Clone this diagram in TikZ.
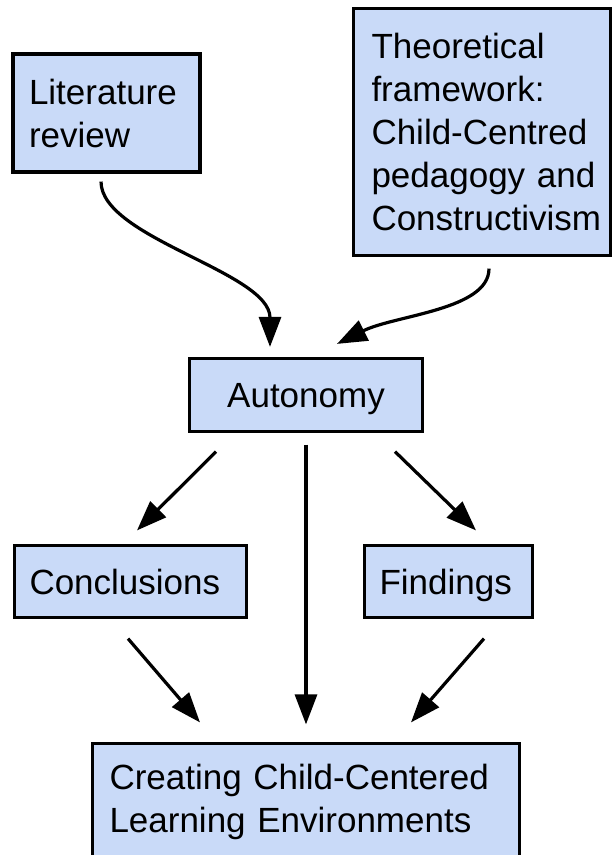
\documentclass[tikz,border=0pt]{standalone}
\usepackage{fontspec}
\setmainfont{Liberation Sans}
\usetikzlibrary{arrows.meta}
\definecolor{boxfill}{HTML}{C9DAF8}
\hyphenpenalty=10000
\exhyphenpenalty=10000
\hbadness=10000
\hfuzz=50pt
\begin{document}
\begin{tikzpicture}[x=1pt,y=-1pt,
  box/.style={draw=black, line width=3.2pt, fill=boxfill, inner ysep=0pt, text=black,
    font=\fontsize{35}{43}\selectfont},
  single/.style={text height=32pt, text depth=7pt},
  conn/.style={line width=3.2pt, -{Triangle[length=30pt,width=22pt]}},
]
\useasboundingbox (0,0) rectangle (616,855);
\clip (0,0) rectangle (616,855);
\node[box, minimum width=187pt, minimum height=118pt, text width=155pt, inner xsep=16pt, align=left] (lit) at (106.5,113) {Literature\\review};
\node[box, minimum width=257pt, minimum height=247pt, text width=221pt, inner xsep=18pt, align=left] (theo) at (482,132) {\mbox{Theoretical}\\\mbox{framework:}\\\mbox{Child-Centred}\\\mbox{pedagogy and}\\\mbox{Constructivism}};
\node[box, single, minimum width=233pt, minimum height=73pt, text width=201pt, inner xsep=16pt, align=center] (auto) at (306,395) {Autonomy};
\node[box, single, minimum width=232pt, minimum height=72pt, text width=202pt, inner xsep=15pt, align=left] (conc) at (130.5,581.5) {Conclusions};
\node[box, single, minimum width=168pt, minimum height=72pt, text width=138pt, inner xsep=15pt, align=left] (find) at (448.5,581.5) {Findings};
\node[box, minimum width=427pt, minimum height=117pt, text width=393pt, inner xsep=17pt, align=left] (env) at (306,802) {Creating Child-Centered\\Learning Environments};

\draw[conn] ([xshift=-5.5pt,yshift=-8pt]lit.south) .. controls (101,238) and (270,272) .. ([xshift=-36pt,yshift=10pt]auto.north);
\draw[conn] ([xshift=7pt,yshift=-11.5pt]theo.south) .. controls (489,310) and (395,315) .. ([xshift=31pt,yshift=13pt]auto.north);
\draw[conn] ([xshift=-90pt,yshift=-18.5pt]auto.south) -- ([xshift=6.5pt,yshift=13.5pt]conc.north);
\draw[conn] ([yshift=-11.5pt]auto.south) -- ([yshift=17.5pt]env.north);
\draw[conn] ([xshift=89pt,yshift=-18.5pt]auto.south) -- ([xshift=27.5pt,yshift=13.5pt]find.north);
\draw[conn] ([xshift=-2.5pt,yshift=-19.5pt]conc.south) -- ([xshift=-106pt,yshift=19.5pt]env.north);
\draw[conn] ([xshift=35.5pt,yshift=-19.5pt]find.south) -- ([xshift=105pt,yshift=19.5pt]env.north);
\end{tikzpicture}
\end{document}
